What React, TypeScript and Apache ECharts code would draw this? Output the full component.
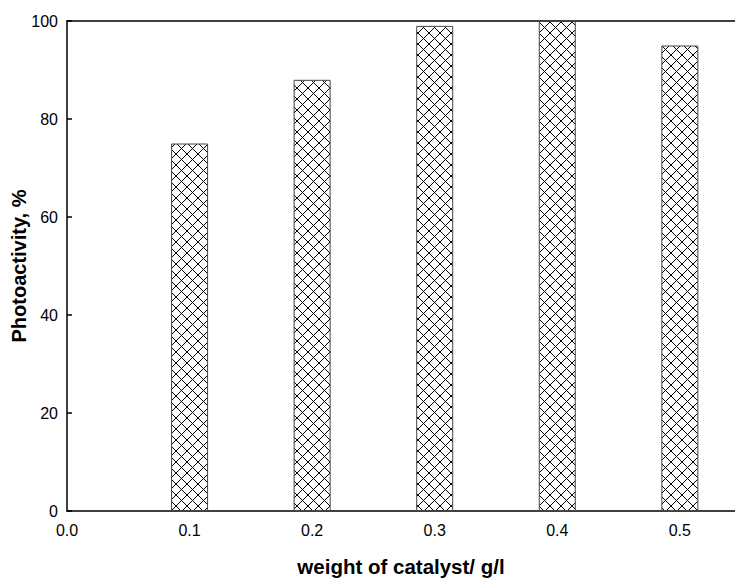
import React, { useEffect, useRef } from "react";
import * as echarts from "echarts";

const xValues = [0.1, 0.2, 0.3, 0.4, 0.5];
const photoactivity = [75, 88, 99, 100, 95];
const yTicks = [0, 20, 40, 60, 80, 100];
const xTickLabels = ["0.0", "0.1", "0.2", "0.3", "0.4", "0.5"];

const tile =
  "data:image/svg+xml;utf8," +
  encodeURIComponent(
    '<svg xmlns="http://www.w3.org/2000/svg" width="11" height="11">' +
      '<rect width="11" height="11" fill="#ffffff"/>' +
      '<path d="M0 0L11 11M11 0L0 11M-1 10L1 12M10 -1L12 1M-1 1L1 -1M10 12L12 10" stroke="#000" stroke-width="1"/>' +
      "</svg>"
  );

export default function App() {
  const ref = useRef<HTMLDivElement>(null);
  useEffect(() => {
    if (!ref.current) return;
    const chart = echarts.init(ref.current, null, { renderer: "svg" });
    const font = "'Liberation Sans', Arial, sans-serif";
    chart.setOption({
      animation: false,
      backgroundColor: "#ffffff",
      textStyle: { fontFamily: font },
      grid: { left: 67, right: 0, top: 21, bottom: 69, containLabel: false, outerBoundsMode: "none" },
      xAxis: [
        {
          type: "value",
          min: 0,
          max: 0.545,
          interval: 0.1,
          name: "weight of catalyst/ g/l",
          nameLocation: "middle",
          nameGap: 45,
          nameMoveOverlap: false,
          nameTextStyle: { fontSize: 20.5, fontWeight: "bold", color: "#000", fontFamily: font },
          axisLine: { show: true, lineStyle: { color: "#000", width: 1.5 } },
          axisTick: { show: false },
          splitLine: { show: false },
          axisLabel: {
            color: "#000",
            fontSize: 16,
            margin: 11,
            showMaxLabel: false,
            fontFamily: font,
            formatter: (v: number) => {
              const i = Math.round(v * 10);
              return Math.abs(v * 10 - i) < 1e-6 && i < xTickLabels.length ? xTickLabels[i] : "";
            },
          },
        },
        {
          type: "value",
          position: "top",
          min: 0,
          max: 0.545,
          axisLine: { show: true, lineStyle: { color: "#000", width: 1.5 } },
          axisTick: { show: false },
          axisLabel: { show: false },
          splitLine: { show: false },
        },
      ],
      yAxis: {
        type: "value",
        min: yTicks[0],
        max: yTicks[yTicks.length - 1],
        interval: 20,
        name: "Photoactivity, %",
        nameLocation: "middle",
        nameGap: 38,
        nameMoveOverlap: false,
        nameTextStyle: { fontSize: 20, fontWeight: "bold", color: "#000", fontFamily: font },
        axisLine: { show: true, lineStyle: { color: "#000", width: 1.5 } },
        axisTick: { show: true, inside: true, length: 5, lineStyle: { color: "#000", width: 1.5 } },
        splitLine: { show: false },
        axisLabel: { color: "#000", fontSize: 16, margin: 9, fontFamily: font },
      },
      series: [
        {
          type: "bar",
          xAxisIndex: 0,
          barWidth: 37,
          data: xValues.map((x, i) => [x, photoactivity[i]]),
          itemStyle: {
            color: { image: tile, repeat: "repeat", imageWidth: 11, imageHeight: 11 } as any,
            borderColor: "#444",
            borderWidth: 1,
          },
        },
      ],
    });
    return () => chart.dispose();
  }, []);
  return (
    <div
      ref={ref}
      style={{ position: "fixed", left: 0, top: 0, width: 735, height: 580, background: "#fff" }}
    />
  );
}
